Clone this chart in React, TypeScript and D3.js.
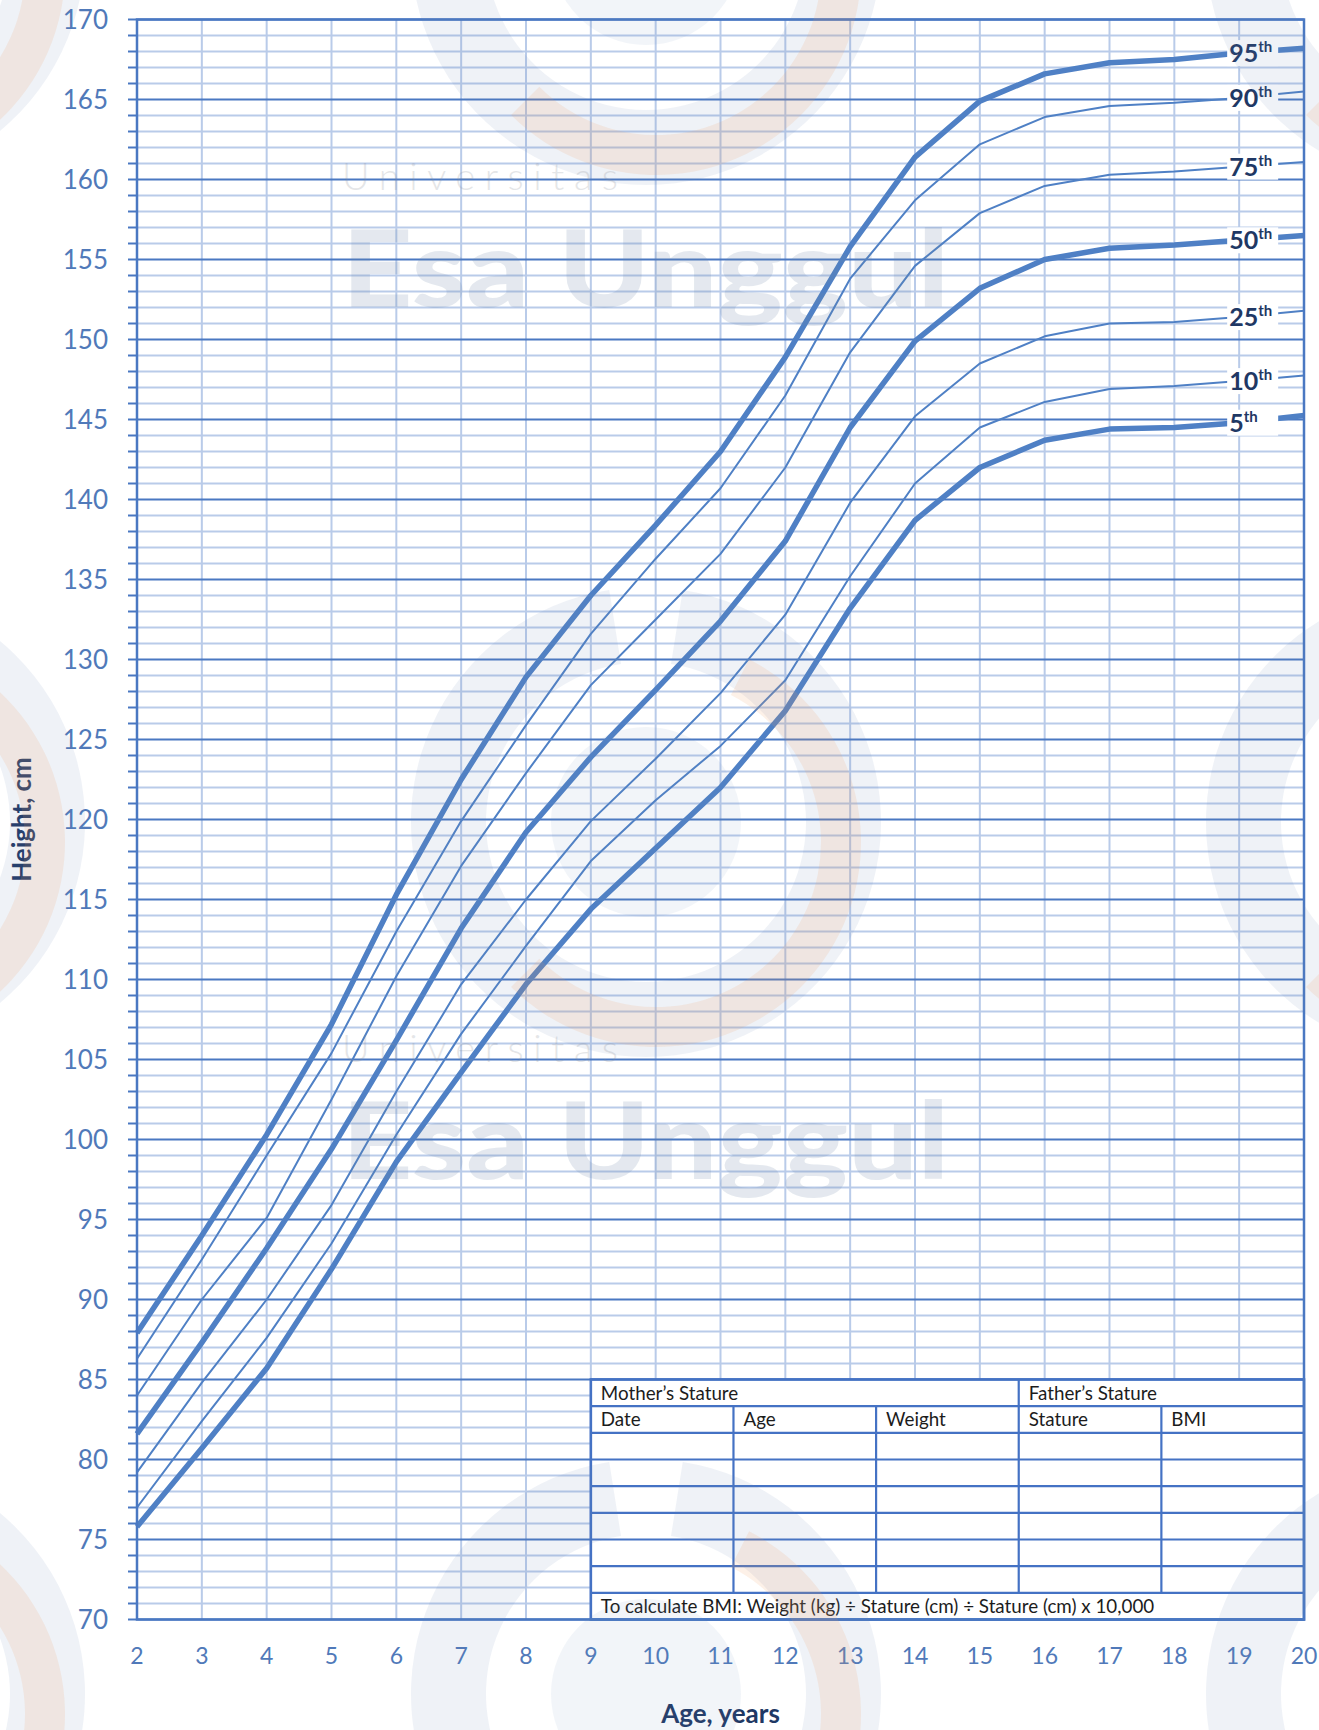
import React from 'react';
import * as d3 from 'd3';

// ---------- data ----------
const AGES = [2, 3, 4, 5, 6, 7, 8, 9, 10, 11, 12, 13, 14, 15, 16, 17, 18, 19, 20];
const AGE_TICKS = [2, 3, 4, 5, 6, 7, 8, 9, 10, 11, 12, 13, 14, 15, 16, 17, 18, 19, 20];
const HEIGHT_TICKS = [70, 75, 80, 85, 90, 95, 100, 105, 110, 115, 120, 125, 130, 135, 140, 145, 150, 155, 160, 165, 170];

const P95 = [87.9, 94.0, 100.3, 107.2, 115.3, 122.5, 128.9, 134.0, 138.4, 143.0, 148.9, 155.8, 161.4, 164.9, 166.6, 167.3, 167.5, 167.9, 168.2];
const P90 = [86.3, 92.5, 99.0, 105.4, 113.0, 119.9, 125.9, 131.6, 136.3, 140.7, 146.5, 153.8, 158.7, 162.2, 163.9, 164.6, 164.8, 165.1, 165.5];
const P75 = [84.0, 90.0, 95.1, 102.5, 110.2, 117.1, 122.9, 128.4, 132.5, 136.6, 142.0, 149.2, 154.6, 157.9, 159.6, 160.3, 160.5, 160.8, 161.1];
const P50 = [81.6, 87.3, 93.2, 99.4, 106.2, 113.2, 119.2, 123.9, 128.1, 132.4, 137.4, 144.5, 149.9, 153.2, 155.0, 155.7, 155.9, 156.2, 156.5];
const P25 = [79.2, 84.8, 90.0, 95.9, 103.0, 109.7, 115.0, 119.9, 123.8, 127.9, 132.8, 139.8, 145.2, 148.5, 150.2, 151.0, 151.1, 151.4, 151.8];
const P10 = [77.0, 82.4, 87.6, 93.5, 100.3, 106.6, 112.1, 117.4, 121.2, 124.6, 128.7, 135.2, 141.0, 144.5, 146.1, 146.9, 147.1, 147.4, 147.75];
const P5 = [75.8, 80.7, 85.7, 91.9, 98.6, 104.2, 109.7, 114.4, 118.2, 122.0, 126.8, 133.2, 138.7, 142.0, 143.7, 144.4, 144.5, 144.8, 145.25];

const SERIES_LABELS = ['95', '90', '75', '50', '25', '10', '5'];
const SERIES_VALUES = [P95, P90, P75, P50, P25, P10, P5];
const SERIES_THICK = [true, false, false, true, false, false, true];
const LABEL_AGE = 19;

const TABLE_COL_AGES = [9, 11.2, 13.4, 15.6, 17.8, 20];
const TABLE_TOP = 85;
const TABLE_BOTTOM = 70;
const TABLE_ROWS = 9;
const TABLE_HEADER = [
  { text: 'Mother\u2019s Stature', col: 0 },
  { text: 'Father\u2019s Stature', col: 3 },
];
const TABLE_SUBHEADER = ['Date', 'Age', 'Weight', 'Stature', 'BMI'];
const TABLE_NOTE = 'To calculate BMI: Weight (kg) \u00F7 Stature (cm) \u00F7 Stature (cm) x 10,000';

const X_TITLE = 'Age, years';
const Y_TITLE = 'Height, cm';

// watermark
const WM_LOGO_X = [-150, 646, 1441];
const WM_LOGO_Y = [-50, 822, 1694];
const WM_TEXT_X = [342];
const WM_TEXT_Y = [307, 1179];

// ---------- layout ----------
const W = 1319;
const H = 1730;
const FONT = 'Lato, "Open Sans", sans-serif';
const C_LIGHT = '#b9cbe9';
const C_MAJOR = '#4a78c2';
const C_CURVE = '#4f80c5';
const C_TICK_TEXT = '#5079b9';
const C_TITLE = '#1f3864';

function Logo({ cx, cy }: { cx: number; cy: number }) {
  const arcBlue = d3.arc()({ innerRadius: 160, outerRadius: 235, startAngle: Math.PI * 0.05, endAngle: Math.PI * 1.95 } as any) || '';
  const arcOrange = d3.arc()({ innerRadius: 165, outerRadius: 205, startAngle: Math.PI * 0.15, endAngle: Math.PI * 1.25 } as any) || '';
  return (
    <g transform={`translate(${cx},${cy})`}>
      <path d={arcBlue} fill="#6f8db8" opacity={0.11} />
      <circle r={95} fill="#6f8db8" opacity={0.09} />
      <path d={arcOrange} transform="translate(10,20)" fill="#f39a5a" opacity={0.14} />
    </g>
  );
}

export default function App() {
  const x = d3.scaleLinear().domain([2, 20]).range([137, 1304]);
  const y = d3.scaleLinear().domain([70, 170]).range([1619.5, 19.5]);

  const cmTicks = y.ticks(100);
  const minor = cmTicks.filter((v) => v % 5 !== 0);
  const major = cmTicks.filter((v) => v % 5 === 0);
  const ageLines = x.ticks(18);

  const line = d3
    .line<number>()
    .x((_, i) => x(AGES[i]))
    .y((v) => y(v))
    .curve(d3.curveLinear);

  const rowH = (TABLE_TOP - TABLE_BOTTOM) / TABLE_ROWS;
  const rowVals = d3.range(TABLE_ROWS + 1).map((i) => TABLE_TOP - i * rowH);
  const tx0 = x(TABLE_COL_AGES[0]);
  const tx1 = x(TABLE_COL_AGES[TABLE_COL_AGES.length - 1]);
  const ty0 = y(TABLE_TOP);
  const ty1 = y(TABLE_BOTTOM);

  const labelIdx = AGES.indexOf(LABEL_AGE);
  const TFS = 18.8;

  return (
    <div style={{ position: 'absolute', left: 0, top: 0, width: W, height: H }}>
      <svg width={W} height={H} style={{ display: 'block' }} fontFamily={FONT}>
        <rect width={W} height={H} fill="#ffffff" />

        {/* grid */}
        <g>
          {minor.map((v) => (
            <line key={'mi' + v} x1={x(2)} x2={x(20)} y1={y(v)} y2={y(v)} stroke={C_LIGHT} strokeWidth={1.8} />
          ))}
          {ageLines.map((a) => (
            <line key={'va' + a} x1={x(a)} x2={x(a)} y1={y(70)} y2={y(170)} stroke={C_LIGHT} strokeWidth={2} />
          ))}
          {major.map((v) => (
            <line key={'ma' + v} x1={x(2)} x2={x(20)} y1={y(v)} y2={y(v)} stroke={C_MAJOR} strokeWidth={2} />
          ))}
        </g>

        {/* table */}
        <g>
          <rect x={tx0} y={ty0} width={tx1 - tx0} height={ty1 - ty0} fill="#ffffff" />
          {rowVals.map((v, i) => (
            <line key={'tr' + i} x1={tx0} x2={tx1} y1={y(v)} y2={y(v)} stroke="#4472c4" strokeWidth={2.2} />
          ))}
          <line x1={x(TABLE_COL_AGES[3])} x2={x(TABLE_COL_AGES[3])} y1={y(rowVals[0])} y2={y(rowVals[1])} stroke="#4472c4" strokeWidth={2.2} />
          {TABLE_COL_AGES.slice(1, -1).map((a) => (
            <line key={'tc' + a} x1={x(a)} x2={x(a)} y1={y(rowVals[1])} y2={y(rowVals[TABLE_ROWS - 1])} stroke="#4472c4" strokeWidth={2.2} />
          ))}
          <rect x={tx0} y={ty0} width={tx1 - tx0} height={ty1 - ty0} fill="none" stroke="#4472c4" strokeWidth={2.6} />
          {TABLE_HEADER.map((h) => (
            <text key={h.text} x={x(TABLE_COL_AGES[h.col]) + 10} y={(y(rowVals[0]) + y(rowVals[1])) / 2} dy="0.36em" fontSize={TFS} fill="#1c1c1c">
              {h.text}
            </text>
          ))}
          {TABLE_SUBHEADER.map((t, i) => (
            <text key={t} x={x(TABLE_COL_AGES[i]) + 10} y={(y(rowVals[1]) + y(rowVals[2])) / 2} dy="0.36em" fontSize={TFS} fill="#1c1c1c">
              {t}
            </text>
          ))}
          <text x={tx0 + 10} y={(y(rowVals[TABLE_ROWS - 1]) + y(rowVals[TABLE_ROWS])) / 2} dy="0.36em" fontSize={TFS} fill="#1c1c1c">
            {TABLE_NOTE}
          </text>
        </g>

        {/* curves */}
        <g fill="none" stroke={C_CURVE} strokeLinejoin="round">
          {SERIES_VALUES.map((vals, i) => (
            <path key={'c' + i} d={line(vals) || ''} strokeWidth={SERIES_THICK[i] ? 5.5 : 2} />
          ))}
        </g>

        {/* percentile labels */}
        <g>
          {SERIES_VALUES.map((vals, i) => {
            const cy = y(vals[labelIdx]);
            return (
              <g key={'l' + i}>
                <rect x={x(LABEL_AGE) - 12} y={cy - 13} width={51} height={26} fill="#ffffff" />
                <text x={x(LABEL_AGE) - 10} y={cy} dy="0.36em" fontSize={25} fontWeight={700} fill={C_TITLE}>
                  {SERIES_LABELS[i]}
                  <tspan fontSize={15} dy={-10}>th</tspan>
                </text>
              </g>
            );
          })}
        </g>

        {/* axes */}
        <g>
          {cmTicks.map((v) => (
            <line key={'tk' + v} x1={x(2) - 9} x2={x(2)} y1={y(v)} y2={y(v)} stroke={C_MAJOR} strokeWidth={2} />
          ))}
          <rect x={x(2)} y={y(170)} width={x(20) - x(2)} height={y(70) - y(170)} fill="none" stroke={C_MAJOR} strokeWidth={2.5} />
          {HEIGHT_TICKS.map((v) => (
            <text key={'yl' + v} x={108} y={y(v)} dy="0.36em" textAnchor="end" fontSize={26} fill={C_TICK_TEXT}>
              {v}
            </text>
          ))}
          {AGE_TICKS.map((a) => (
            <text key={'xl' + a} x={x(a)} y={1664} textAnchor="middle" fontSize={23} fill={C_TICK_TEXT}>
              {a}
            </text>
          ))}
          <text x={(x(2) + x(20)) / 2} y={1723} textAnchor="middle" fontSize={26} fontWeight={700} fill={C_TITLE}>
            {X_TITLE}
          </text>
          <text transform={`translate(31,${(y(70) + y(170)) / 2}) rotate(-90)`} textAnchor="middle" fontSize={26} fontWeight={700} fill={C_TITLE}>
            {Y_TITLE}
          </text>
        </g>

        {/* watermark */}
        <g pointerEvents="none">
          {WM_LOGO_X.map((lx) => WM_LOGO_Y.map((ly) => <Logo key={lx + '_' + ly} cx={lx} cy={ly} />))}
          {WM_TEXT_X.map((wx) =>
            WM_TEXT_Y.map((wy) => (
              <g key={wx + '_' + wy}>
                <text x={wx} y={wy - 117} fontSize={38} fontWeight={300} fill="#8a8f98" opacity={0.22} textLength={276} lengthAdjust="spacing">
                  Universitas
                </text>
                <text x={wx} y={wy} fontSize={106} fontWeight={900} fill="#6d87a8" opacity={0.18} textLength={607} lengthAdjust="spacingAndGlyphs">
                  Esa Unggul
                </text>
              </g>
            ))
          )}
        </g>
      </svg>
    </div>
  );
}
